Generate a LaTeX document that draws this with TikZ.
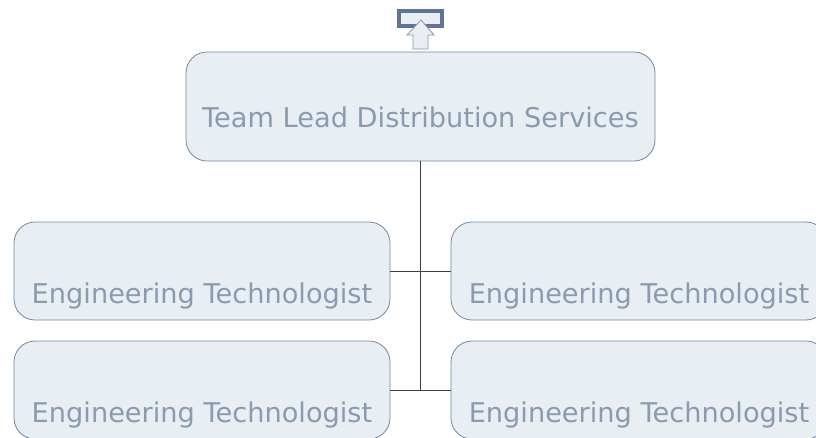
\documentclass[tikz,border=0pt]{standalone}
\usepackage{fontspec}
\setmainfont{DejaVu Sans}
\usetikzlibrary{positioning}
\definecolor{boxfill}{HTML}{E9EEF2}
\definecolor{boxline}{HTML}{7087A6}
\definecolor{boxtext}{HTML}{8A9AB0}
\definecolor{tabline}{HTML}{5F7596}
\definecolor{arrowline}{HTML}{8796AE}

\begin{document}
\begin{tikzpicture}[x=1pt,y=-1pt,
		orgbox/.style={draw=boxline,fill=boxfill,line width=0.8pt,rounded corners=21pt,text=boxtext,font=\fontsize{27.2}{30}\selectfont,inner sep=0pt,text depth=6pt},
		leadbox/.style={orgbox,minimum width=469pt,minimum height=109pt,text height=48pt},
		techbox/.style={orgbox,minimum width=376pt,minimum height=98pt,text height=70pt},
		link/.style={draw=black!75,line width=0.9pt}]
			\useasboundingbox (0,0) rectangle (816,437);
			% top level and the four posts
			\node[leadbox] (lead) at (420.5,106.5) {Team Lead Distribution Services};
			\node[techbox] (tech1) at (202,271) {Engineering Technologist};
			\node[techbox] (tech2) at (639,271) {Engineering Technologist};
			\node[techbox] (tech3) at (202,390) {Engineering Technologist};
			\node[techbox] (tech4) at (639,390) {Engineering Technologist};
			\coordinate (hub) at (lead.south |- tech3.east);
			\draw[link] (lead.south) -- (hub);
			\draw[link] (tech1.east) -- (tech2.west);
			\draw[link] (tech3.east) -- (tech4.west);
			% the tab with the up arrow
			\node[draw=tabline,line width=4pt,fill=boxfill,minimum width=43pt,minimum height=15pt,inner sep=0pt] (tab) at (420.5,18.5) {};
			\draw[draw=arrowline,fill=boxfill,line width=0.8pt] (421,20) -- (434,35) -- (428,35) -- (428,49) -- (413,49) -- (413,35) -- (407,35) -- cycle;
\end{tikzpicture}
\end{document}
